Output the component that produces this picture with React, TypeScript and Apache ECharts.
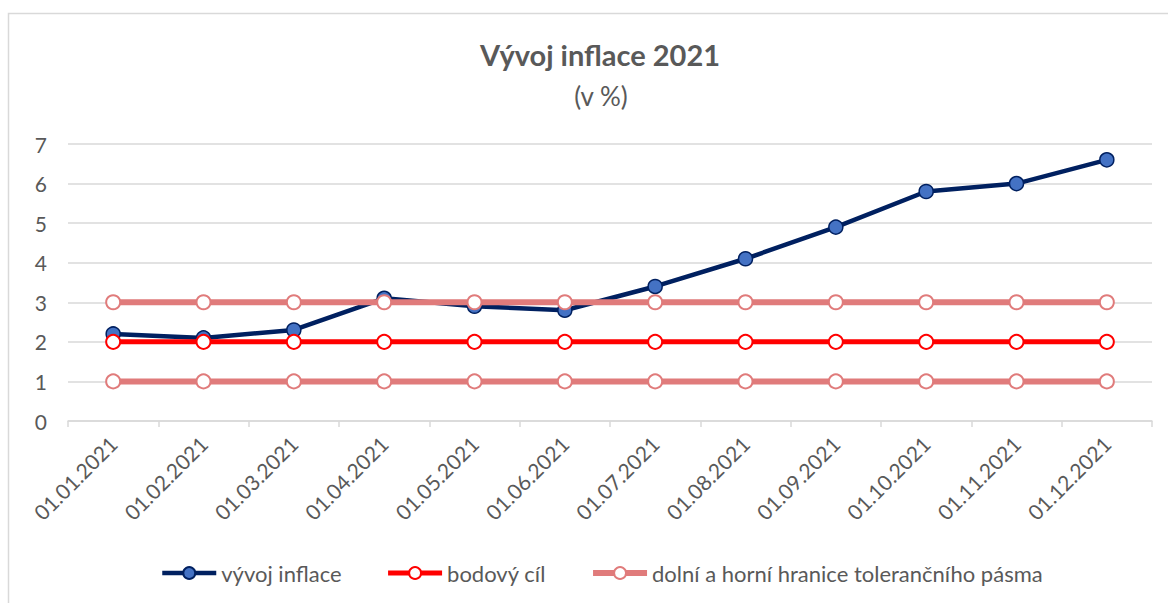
import React, { useEffect, useRef } from "react";
import * as echarts from "echarts";

const categories = [
  "01.01.2021", "01.02.2021", "01.03.2021", "01.04.2021", "01.05.2021", "01.06.2021",
  "01.07.2021", "01.08.2021", "01.09.2021", "01.10.2021", "01.11.2021", "01.12.2021",
];
const inflation = [2.2, 2.1, 2.3, 3.1, 2.9, 2.8, 3.4, 4.1, 4.9, 5.8, 6.0, 6.6];
const target = [2, 2, 2, 2, 2, 2, 2, 2, 2, 2, 2, 2];
const lowerBound = [1, 1, 1, 1, 1, 1, 1, 1, 1, 1, 1, 1];
const upperBound = [3, 3, 3, 3, 3, 3, 3, 3, 3, 3, 3, 3];
const yTicks = { min: 0, max: 7, interval: 1 };

const FONT = "Lato, 'Open Sans', sans-serif";
const TXT = "#595959";
const BAND_NAME = "dolní a horní hranice tolerančního pásma";

export default function App() {
  const ref = useRef<HTMLDivElement>(null);
  useEffect(() => {
    if (!ref.current) return;
    const chart = echarts.init(ref.current, undefined, { renderer: "svg" });
    const openMarker = (color: string) => ({
      symbol: "circle",
      symbolSize: 14,
      itemStyle: { color: "#ffffff", borderColor: color, borderWidth: 2 },
    });
    chart.setOption({
      animation: false,
      backgroundColor: "#ffffff",
      textStyle: { fontFamily: FONT },
      title: [
        {
          text: "Vývoj inflace 2021",
          left: 595,
          textAlign: "center",
          top: 35,
          textStyle: { fontFamily: FONT, fontSize: 29, fontWeight: "bold", color: TXT },
        },
        {
          text: "(v %)",
          left: 596,
          textAlign: "center",
          top: 78,
          textStyle: { fontFamily: FONT, fontSize: 26, fontWeight: "normal", color: TXT },
        },
      ],
      graphic: [
        {
          type: "rect",
          shape: { x: 8.5, y: 13.5, width: 1300, height: 800 },
          style: { fill: "none", stroke: "#d9d9d9", lineWidth: 1.5 },
          silent: true,
        },
      ],
      legend: {
        bottom: 14,
        left: 155,
        itemWidth: 54,
        itemHeight: 15,
        itemGap: 44,
        textStyle: { fontFamily: FONT, fontSize: 22, color: TXT },
        data: [
          { name: "vývoj inflace", lineStyle: { width: 4.5 } },
          { name: "bodový cíl", lineStyle: { width: 5 } },
          { name: BAND_NAME, lineStyle: { width: 6 } },
        ],
      },
      grid: { left: 68, right: 16, top: 144, bottom: 182, containLabel: false },
      xAxis: {
        type: "category",
        data: categories,
        boundaryGap: true,
        axisLine: { lineStyle: { color: "#d9d9d9", width: 1.5 } },
        axisTick: { show: true, length: 6, lineStyle: { color: "#d9d9d9", width: 1.5 } },
        axisLabel: {
          rotate: 45,
          interval: 0,
          margin: 19,
          fontFamily: FONT,
          fontSize: 21,
          color: TXT,
        },
      },
      yAxis: {
        type: "value",
        min: yTicks.min,
        max: yTicks.max,
        interval: yTicks.interval,
        axisLine: { show: false },
        axisTick: { show: false },
        axisLabel: { margin: 21, fontFamily: FONT, fontSize: 21, color: TXT },
        splitLine: { lineStyle: { color: "#d9d9d9", width: 1.5 } },
      },
      series: [
        {
          name: "vývoj inflace",
          type: "line",
          data: inflation,
          symbol: "circle",
          symbolSize: 14,
          lineStyle: { color: "#002060", width: 4.5 },
          itemStyle: { color: "#4472C4", borderColor: "#002060", borderWidth: 1.5 },
          z: 2,
        },
        {
          name: "bodový cíl",
          type: "line",
          data: target,
          lineStyle: { color: "#ff0000", width: 5 },
          ...openMarker("#ff0000"),
          z: 3,
        },
        {
          name: BAND_NAME,
          type: "line",
          data: lowerBound,
          lineStyle: { color: "#e07b7b", width: 6 },
          ...openMarker("#e07b7b"),
          z: 4,
        },
        {
          name: BAND_NAME,
          type: "line",
          data: upperBound,
          lineStyle: { color: "#e07b7b", width: 6 },
          ...openMarker("#e07b7b"),
          z: 4,
        },
      ],
    });
    return () => chart.dispose();
  }, []);
  return (
    <div
      ref={ref}
      style={{ position: "absolute", left: 0, top: 0, width: 1168, height: 603 }}
    />
  );
}
